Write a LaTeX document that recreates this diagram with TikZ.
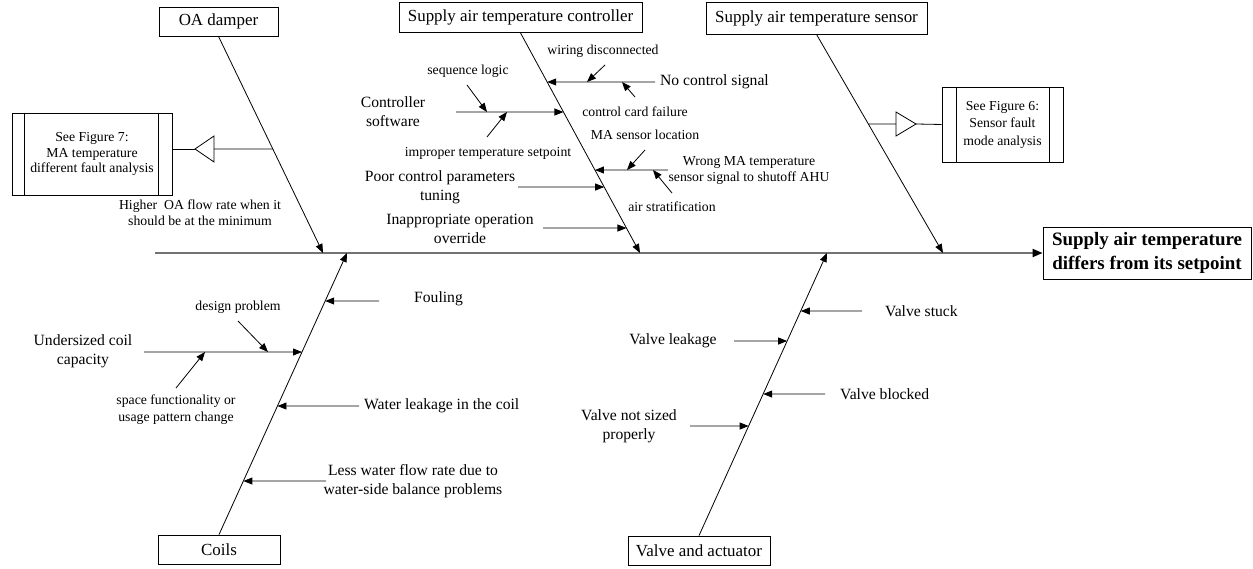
\documentclass[tikz,border=0pt]{standalone}
\usepackage{fontspec}
\setmainfont{Liberation Serif}
\usetikzlibrary{arrows.meta}
\begin{document}
\begin{tikzpicture}[x=1bp,y=-1bp,
  box/.style={draw,line width=0.8bp,inner sep=0pt,font=\fontsize{17}{20}\selectfont},
  refbox/.style={draw,line width=0.8bp,inner sep=0pt,align=center,font=\fontsize{13.8}{15.5}\selectfont},
  big/.style={align=center,inner sep=1bp,font=\fontsize{15.7}{19}\selectfont},
  sml/.style={align=center,inner sep=1bp,font=\fontsize{13.8}{16.5}\selectfont},
  bone/.style={line width=0.8bp,-{Triangle[length=9bp,width=7bp]}},
  arr/.style={line width=0.8bp,-{Triangle[length=9bp,width=7bp]}},
  plain/.style={line width=0.8bp},
  spine/.style={line width=2bp,draw=black!55,-{Triangle[length=10bp,width=8bp,color=black]}}
]
\useasboundingbox (0,0) rectangle (1253,569);

% ---------- head and spine ----------
\node[box,minimum width=208bp,minimum height=52bp,align=center,
      font=\bfseries\fontsize{19}{24}\selectfont] (main) at (1147,253)
      {Supply air temperature\\differs from its setpoint};
\coordinate (tail) at (155,253);
\draw[spine] (tail) -- (main.west);

% ---------- category boxes ----------
\node[box,minimum width=119bp,minimum height=29bp] (oa) at (218.5,21.5) {OA damper};
\node[box,minimum width=243bp,minimum height=30bp] (ctl) at (520.5,17.5) {Supply air temperature controller};
\node[box,minimum width=221bp,minimum height=32bp] (sen) at (816.5,18) {Supply air temperature sensor};
\node[box,minimum width=122bp,minimum height=29bp] (coil) at (219,549.5) {Coils};
\node[box,minimum width=142bp,minimum height=29bp] (valve) at (699,550.5) {Valve and actuator};

% bone ends on the spine
\coordinate (oaT) at (323,253);
\coordinate (ctT) at (640,253);
\coordinate (snT) at (943,253);
\coordinate (coT) at (347,253);
\coordinate (vaT) at (827,253);

\draw[bone] (oa.south) -- (oaT);
\draw[bone] (ctl.south) -- (ctT);
\draw[bone] (sen.south) -- (snT);
\draw[bone] (coil.north) -- (coT);
\draw[bone] (valve.north) -- (vaT);

% ---------- OA damper ----------
\node[refbox,minimum width=160bp,minimum height=82bp] (ma) at (92,154)
  {See Figure 7:\\MA temperature\\different fault analysis};
\draw[plain] ([xshift=13bp]ma.north west) -- ([xshift=13bp]ma.south west);
\draw[plain] ([xshift=-14bp]ma.north east) -- ([xshift=-14bp]ma.south east);
\coordinate (t7a) at (195,149);
\coordinate (t7b) at (214,149);
\draw[plain] (t7a) -- (214,136) -- (214,162) -- cycle;
\coordinate (oaB) at (intersection of oa.south--oaT and 0,149--400,149);
\draw[plain] (oaB) -- (t7b);
\draw[plain] (t7a) -- (t7a -| ma.east);
\node[sml] (hoa) at (200,212.5) {Higher\ \ OA flow rate when it\\should be at the minimum};

% ---------- supply air temperature sensor ----------
\node[refbox,minimum width=121bp,minimum height=75bp,font=\fontsize{13.8}{17.5}\selectfont] (f6) at (1002.5,124.5)
  {See Figure 6:\\Sensor fault\\mode analysis};
\draw[plain] ([xshift=15bp]f6.north west) -- ([xshift=15bp]f6.south west);
\draw[plain] ([xshift=-14bp]f6.north east) -- ([xshift=-14bp]f6.south east);
\coordinate (t6b) at (896,124);
\coordinate (t6a) at (916,124);
\draw[plain] (t6a) -- (896,112) -- (896,136) -- cycle;
\coordinate (snB) at (intersection of sen.south--snT and 700,124--1000,124);
\draw[plain] (snB) -- (t6b);
\draw[plain] (t6a) -- (f6.west);

% ---------- supply air temperature controller ----------
% no control signal
\node[big,anchor=west] (nc) at (659,82) {No control signal};
\coordinate (ncS) at (655,82);
\coordinate (ncT) at (intersection of ctl.south--ctT and 400,82--700,82);
\draw[arr] (ncS) -- (ncT);
\node[sml] (wd) at (603,51) {wiring disconnected};
\coordinate (wdS) at (605,65);
\coordinate (wdT) at (587,82);
\draw[arr] (wdS) -- (wdT);
\node[sml] (cc) at (635,112) {control card failure};
\coordinate (ccS) at (635,97);
\coordinate (ccT) at (622,82);
\draw[arr] (ccS) -- (ccT);

% controller software
\node[big] (cs) at (393,112) {Controller\\software};
\coordinate (csS) at (456,112);
\coordinate (csT) at (intersection of ctl.south--ctT and 400,112--700,112);
\draw[arr] (csS) -- (csT);
\node[sml] (sl) at (468,71) {sequence logic};
\coordinate (slS) at (467,85);
\coordinate (slT) at (487,112);
\draw[arr] (slS) -- (slT);
\node[sml] (it) at (488,153) {improper temperature setpoint};
\coordinate (itS) at (487,137);
\coordinate (itT) at (507,112);
\draw[arr] (itS) -- (itT);

% wrong MA temperature signal
\node[sml,font=\fontsize{13.8}{16}\selectfont] (wm) at (749,170) {Wrong MA temperature\\sensor signal to shutoff AHU};
\coordinate (wmS) at (668,170);
\coordinate (wmT) at (intersection of ctl.south--ctT and 400,170--700,170);
\draw[arr] (wmS) -- (wmT);
\node[sml] (ml) at (645,135) {MA sensor location};
\coordinate (mlS) at (645,150);
\coordinate (mlT) at (627,170);
\draw[arr] (mlS) -- (mlT);
\node[sml] (as) at (672,207) {air stratification};
\coordinate (asS) at (672,193);
\coordinate (asT) at (653,170);
\draw[arr] (asS) -- (asT);

% tuning and override
\node[big] (pc) at (440,187.5) {Poor control parameters\\tuning};
\coordinate (pcS) at (518,187);
\coordinate (pcT) at (intersection of ctl.south--ctT and 400,187--700,187);
\draw[arr] (pcS) -- (pcT);
\node[big] (io) at (460,228.5) {Inappropriate operation\\override};
\coordinate (ioS) at (543,228);
\coordinate (ioT) at (intersection of ctl.south--ctT and 400,228--700,228);
\draw[arr] (ioS) -- (ioT);

% ---------- coils ----------
\node[big,anchor=west] (fo) at (413,299) {Fouling};
\coordinate (foS) at (379,301);
\coordinate (foT) at (intersection of coil.north--coT and 200,301--500,301);
\draw[arr] (foS) -- (foT);

\node[big] (uc) at (83,351.5) {Undersized coil\\capacity};
\coordinate (ucS) at (144,352);
\coordinate (ucT) at (intersection of coil.north--coT and 100,352--500,352);
\draw[arr] (ucS) -- (ucT);
\node[sml] (dp) at (238,307) {design problem};
\coordinate (dpS) at (238,321);
\coordinate (dpT) at (268,352);
\draw[arr] (dpS) -- (dpT);
\node[sml] (sf) at (176,409.5) {space functionality or\\usage pattern change};
\coordinate (sfS) at (176,388);
\coordinate (sfT) at (205,352);
\draw[arr] (sfS) -- (sfT);

\node[big,anchor=west] (wl) at (363,406) {Water leakage in the coil};
\coordinate (wlS) at (359,406);
\coordinate (wlT) at (intersection of coil.north--coT and 200,406--500,406);
\draw[arr] (wlS) -- (wlT);

\node[big] (lw) at (413,481) {Less water flow rate due to\\water-side balance problems};
\coordinate (lwS) at (326,481);
\coordinate (lwT) at (intersection of coil.north--coT and 200,481--500,481);
\draw[arr] (lwS) -- (lwT);

% ---------- valve and actuator ----------
\node[big,anchor=west] (vs) at (884,311) {Valve stuck};
\coordinate (vsS) at (862,311);
\coordinate (vsT) at (intersection of valve.north--vaT and 600,311--900,311);
\draw[arr] (vsS) -- (vsT);

\node[big] (vl) at (673,341) {Valve leakage};
\coordinate (vlS) at (734,341);
\coordinate (vlT) at (intersection of valve.north--vaT and 600,341--900,341);
\draw[arr] (vlS) -- (vlT);

\node[big,anchor=west] (vb) at (839,394) {Valve blocked};
\coordinate (vbS) at (825,394);
\coordinate (vbT) at (intersection of valve.north--vaT and 600,394--900,394);
\draw[arr] (vbS) -- (vbT);

\node[big] (vn) at (629,426) {Valve not sized\\properly};
\coordinate (vnS) at (690,426);
\coordinate (vnT) at (intersection of valve.north--vaT and 600,426--900,426);
\draw[arr] (vnS) -- (vnT);
\end{tikzpicture}
\end{document}
